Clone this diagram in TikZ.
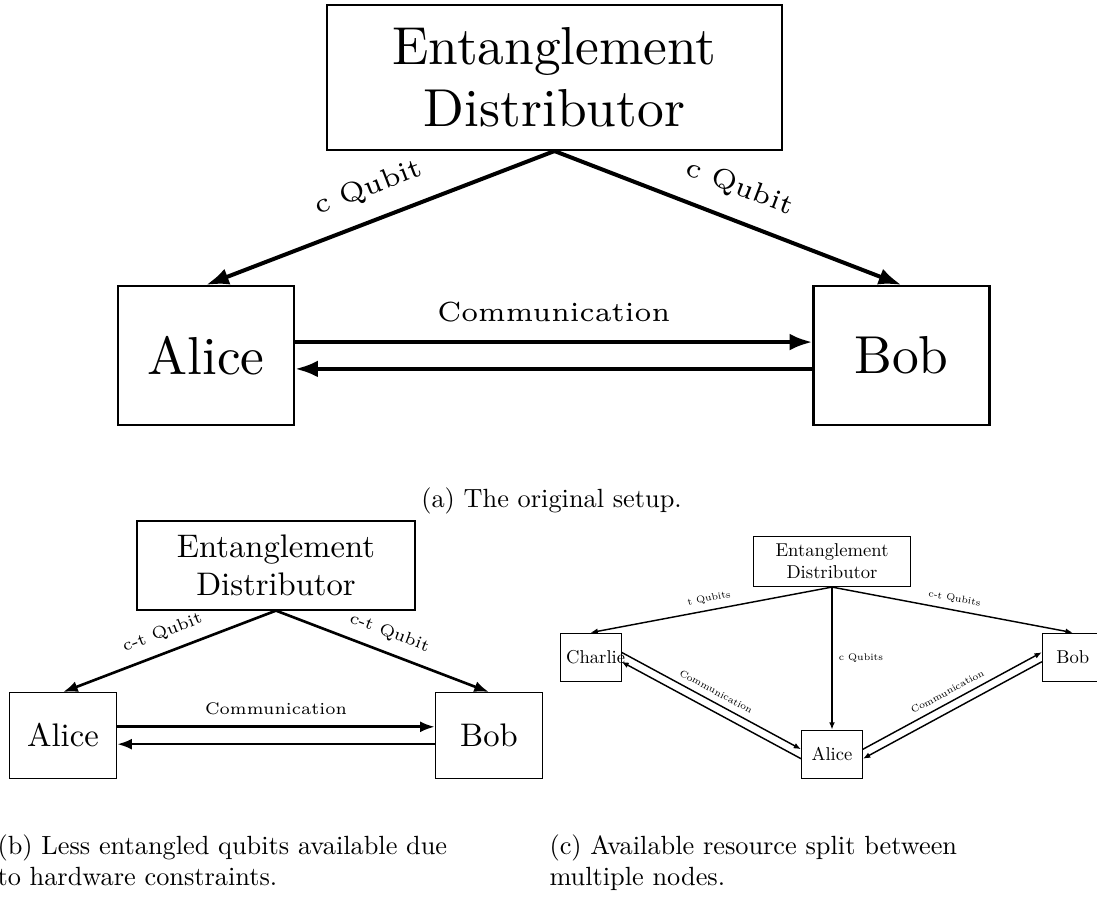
\documentclass[tikz,border=0pt]{standalone}
\usepackage{tikz}
\usetikzlibrary{arrows.meta}

\font\mainfa="[lmroman10-regular]" at 20.3pt
\font\lblfa="[lmroman6-regular]" at 10.5pt
\font\mainfb="[lmroman10-regular]" at 12.4pt
\font\lblfb="[lmroman6-regular]" at 6.4pt
\font\mainfc="[lmroman10-regular]" at 7.07pt
\font\lblfc="[lmroman6-regular]" at 3.67pt

\tikzset{
  boxa/.style={draw, line width=0.8pt, inner sep=6.7pt, align=center, font={\mainfa\baselineskip=23.5pt}},
  enta/.style={boxa, minimum width=172.9pt, minimum height=55.1pt},
  partya/.style={boxa, text width=53.5pt, minimum height=52.8pt},
  arra/.style={line width=1.52pt, -{Latex[length=8.7pt,width=6.4pt]}},
  lbla/.style={inner sep=6.7pt, font=\lblfa},
  boxb/.style={draw, line width=0.5pt, inner sep=4.1pt, align=center, font={\mainfb\baselineskip=14.4pt}},
  entb/.style={boxb, minimum width=105.6pt, minimum height=33.8pt},
  partyb/.style={boxb, text width=32.5pt, minimum height=32.5pt},
  arrb/.style={line width=1pt, -{Latex[length=5.6pt,width=4.2pt]}},
  lblb/.style={inner sep=4.1pt, font=\lblfb},
  boxc/.style={draw, line width=0.3pt, inner sep=2.35pt, align=center, font={\mainfc\baselineskip=8.2pt}},
  entc/.style={boxc, minimum width=59.7pt, minimum height=19.3pt},
  partyc/.style={boxc, text width=18.5pt, minimum height=18.2pt},
  arrc/.style={line width=0.55pt, -{Latex[length=2.8pt,width=2.2pt]}},
  lblc/.style={inner sep=2.35pt, font=\lblfc},
  capt/.style={inner sep=0pt, align=left, font=\fontsize{10}{12}\selectfont}
}

\begin{document}
\begin{tikzpicture}[x=0.38pt, y=-0.38pt]
\useasboundingbox (0,0) rectangle (1097,902);

% (a)
\node[enta] (distA) at (554.5,77.5) {Entanglement\\Distributor};
\node[partya] (aliceA) at (206,355.5) {Alice};
\node[partya] (bobA) at (901.5,355.5) {Bob};
\draw[arra] (distA.south) -- (aliceA.north) node[lbla, midway, above, sloped] (qubitAL) {c Qubit};
\draw[arra] (distA.south) -- (bobA.north) node[lbla, midway, above, sloped] (qubitAR) {c Qubit};
\draw[arra] ([yshift=5.1pt]aliceA.east) -- ([yshift=5.1pt]bobA.west) node[lbla, midway, above] (commA) {Communication};
\draw[arra] ([yshift=-5.1pt]bobA.west) -- ([yshift=-5.1pt]aliceA.east);
\node[capt, anchor=base] (capA) at (551.5,507.5) {(a) The original setup.};

% (b)
\node[entb] (distB) at (276,565.5) {Entanglement\\Distributor};
\node[partyb] (aliceB) at (63,735.5) {Alice};
\node[partyb] (bobB) at (489,735.5) {Bob};
\draw[arrb] (distB.south) -- (aliceB.north) node[lblb, midway, above, sloped] (qubitBL) {c-t Qubit};
\draw[arrb] (distB.south) -- (bobB.north) node[lblb, midway, above, sloped] (qubitBR) {c-t Qubit};
\draw[arrb] ([yshift=3.3pt]aliceB.east) -- ([yshift=3.3pt]bobB.west) node[lblb, midway, above] (commB) {Communication};
\draw[arrb] ([yshift=-3.3pt]bobB.west) -- ([yshift=-3.3pt]aliceB.east);
\node[capt, anchor=north west] (capB) at (-3,834) {(b) Less entangled qubits available due\\to hardware constraints.};

% (c)
\node[entc] (distC) at (832,561.3) {Entanglement\\Distributor};
\node[partyc] (charlieC) at (590.5,657) {Charlie};
\node[partyc] (aliceC) at (832,754) {Alice};
\node[partyc] (bobC) at (1072.8,657) {Bob};
\draw[arrc] (distC.south) -- (charlieC.north) node[lblc, midway, above, sloped] (qubitCL) {t Qubits};
\draw[arrc] (distC.south) -- (bobC.north) node[lblc, midway, above, sloped] (qubitCR) {c-t Qubits};
\draw[arrc] (distC.south) -- (aliceC.north) node[lblc, midway, right] (qubitCM) {c Qubits};
\draw[arrc] ([yshift=1.8pt]charlieC.east) -- ([yshift=1.8pt]aliceC.west) node[lblc, midway, above, sloped] (commCL) {Communication};
\draw[arrc] ([yshift=-1.8pt]aliceC.west) -- ([yshift=-1.8pt]charlieC.east);
\draw[arrc] ([yshift=1.8pt]aliceC.east) -- ([yshift=1.8pt]bobC.west) node[lblc, midway, above, sloped] (commCR) {Communication};
\draw[arrc] ([yshift=-1.8pt]bobC.west) -- ([yshift=-1.8pt]aliceC.east);
\node[capt, anchor=north west] (capC) at (549,834) {(c) Available resource split between\\multiple nodes.};

\end{tikzpicture}
\end{document}
